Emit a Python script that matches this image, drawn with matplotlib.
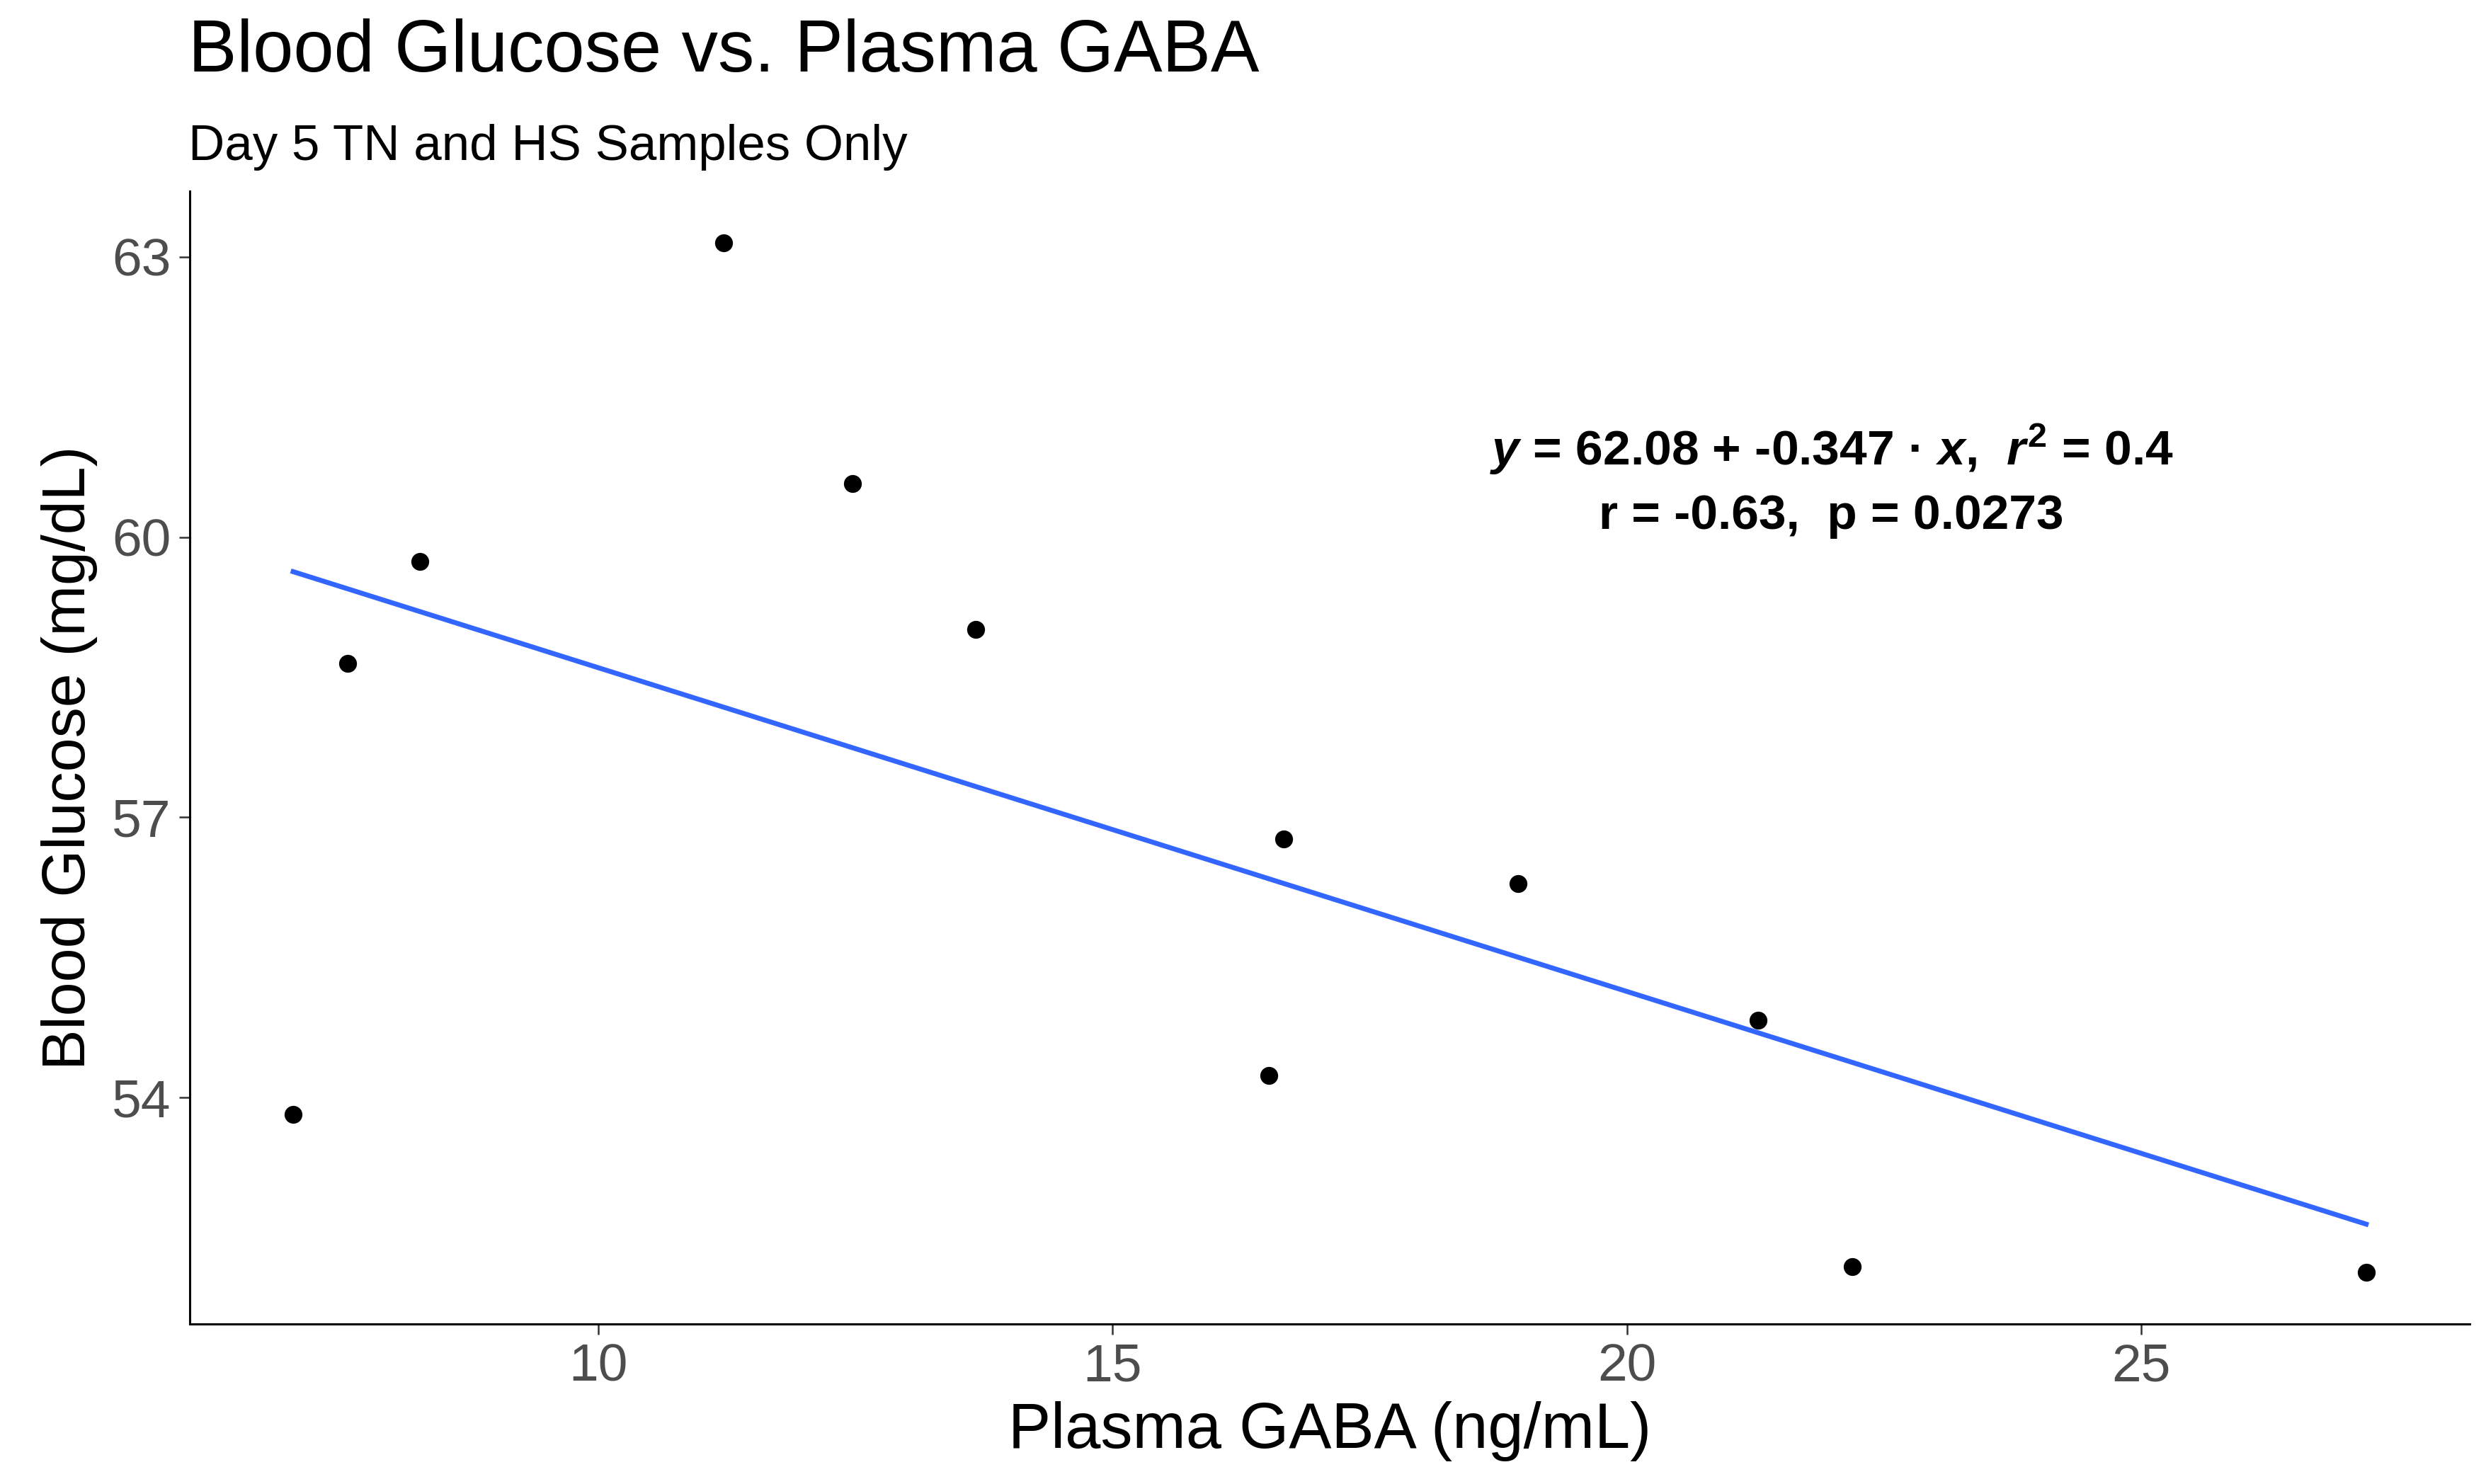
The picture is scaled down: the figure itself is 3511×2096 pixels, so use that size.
import numpy as np
import matplotlib
matplotlib.use("Agg")
import matplotlib.pyplot as plt

# values
gaba = [7.03, 7.56, 8.26, 11.22, 12.47, 13.67, 16.52, 16.66, 18.94, 21.28, 22.19, 27.19]
glucose = [53.82, 58.65, 59.74, 63.15, 60.57, 59.01, 54.24, 56.77, 56.29, 54.83, 52.19, 52.13]
xticks = [10, 15, 20, 25]
yticks = [54, 57, 60, 63]

title = "Blood Glucose vs. Plasma GABA"
subtitle = "Day 5 TN and HS Samples Only"
eq_line = r"$\mathit{y}$ = 62.08 + -0.347 · $\mathit{x}$,  $\mathit{r}^{2}$ = 0.4"
stat_line = "r = -0.63,  p = 0.0273"

plt.rcParams['font.family'] = ['Liberation Sans', 'DejaVu Sans']
plt.rcParams['mathtext.fontset'] = 'custom'
plt.rcParams['mathtext.rm'] = 'Liberation Sans:bold'
plt.rcParams['mathtext.it'] = 'Liberation Sans:italic:bold'
plt.rcParams['mathtext.bf'] = 'Liberation Sans:bold'

x = np.array(gaba)
y = np.array(glucose)

fig = plt.figure(figsize=(35.12, 20.96), dpi=100)
ax = fig.add_axes([0.0762, 0.108, 0.917, 0.763])

ax.scatter(x, y, s=330, color='black', zorder=3, linewidths=0)

# linear fit line over the data range, like geom_smooth(method="lm")
slope, intercept = np.polyfit(x, y, 1)
xs = np.linspace(x.min(), x.max(), 100)
ax.plot(xs, intercept + slope * xs, color='#3366FF', lw=5, zorder=2)

# ggplot style 5% expansion
xr = x.max() - x.min()
yr = y.max() - y.min()
ax.set_xlim(x.min() - 0.05 * xr, x.max() + 0.05 * xr)
ax.set_ylim(y.min() - 0.05 * yr, y.max() + 0.05 * yr)

ax.set_xticks(xticks)
ax.set_yticks(yticks)
ax.tick_params(axis='both', labelsize=54, labelcolor='#4D4D4D', color='#333333',
               length=11, width=1.8, pad=8)

for side in ['top', 'right']:
    ax.spines[side].set_visible(False)
for side in ['left', 'bottom']:
    ax.spines[side].set_linewidth(2.2)
    ax.spines[side].set_color('black')

ax.set_xlabel("Plasma GABA (ng/mL)", fontsize=65, labelpad=10)
ax.set_ylabel("Blood Glucose (mg/dL)", fontsize=62, labelpad=14)

ax.text(0.72, 0.772, eq_line, transform=ax.transAxes, ha='center', va='center',
        fontsize=50, fontweight='bold')
ax.text(0.72, 0.713, stat_line, transform=ax.transAxes, ha='center', va='center',
        fontsize=50, fontweight='bold')

fig.text(0.0756, 0.9646, title, fontsize=74, ha='left', va='center')
fig.text(0.0756, 0.901, subtitle, fontsize=51, ha='left', va='center')

fig.savefig("out.png", dpi=100, facecolor='white')
